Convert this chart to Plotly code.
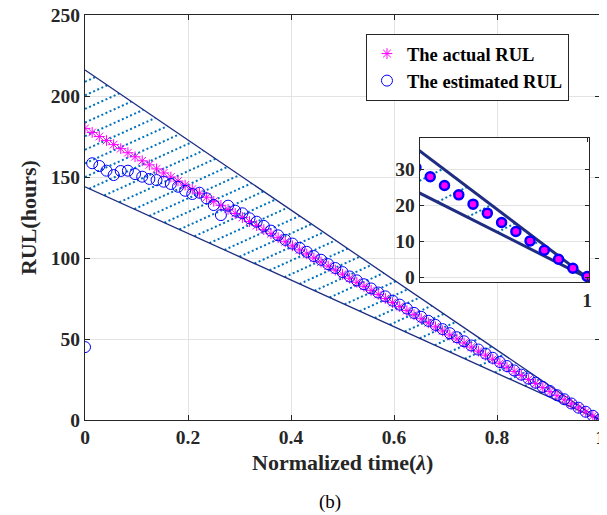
import numpy as np
import plotly.graph_objects as go

# ---------------- data ----------------
norm_time = [round(i / 72, 4) for i in range(73)]  # sampling grid, 73 points on [0,1]

actual_rul = [180.0, 177.5, 175.0, 172.5, 170.0, 167.5, 165.0, 162.5, 160.0, 157.5,
              155.0, 152.5, 150.0, 147.5, 145.0, 142.5, 140.0, 137.5, 135.0, 132.5,
              130.0, 127.5, 125.0, 122.5, 120.0, 117.5, 115.0, 112.5, 110.0, 107.5,
              105.0, 102.5, 100.0, 97.5, 95.0, 92.5, 90.0, 87.5, 85.0, 82.5,
              80.0, 77.5, 75.0, 72.5, 70.0, 67.5, 65.0, 62.5, 60.0, 57.5,
              55.0, 52.5, 50.0, 47.5, 45.0, 42.5, 40.0, 37.5, 35.0, 32.5,
              30.0, 27.5, 25.0, 22.5, 20.0, 17.5, 15.0, 12.5, 10.0, 7.5,
              5.0, 2.5, 0.0]

estimated_rul = [45.0, 158.5, 156.8, 153.9, 151.2, 153.7, 153.9, 151.8, 150.2, 148.8,
                 148.1, 147.1, 145.7, 144.0, 141.5, 139.5, 140.3, 136.8, 132.7, 126.5,
                 132.3, 129.2, 127.6, 124.5, 122.4, 119.8, 116.9, 114.0, 111.2, 108.9,
                 106.3, 103.8, 101.2, 98.9, 96.2, 93.8, 91.3, 88.6, 86.2, 83.8,
                 81.2, 78.7, 76.3, 73.7, 71.2, 68.8, 66.1, 63.7, 61.2, 58.7,
                 56.1, 53.6, 51.1, 48.6, 46.0, 43.5, 41.0, 38.4, 35.8, 33.3,
                 30.6, 28.0, 25.6, 23.0, 20.4, 17.9, 15.3, 12.8, 10.2, 7.6,
                 5.1, 2.6, 0.3]

bound_time = [0.0, 1.0]
upper_bound = [216.0, 0.0]
lower_bound = [144.0, 0.0]

# ---------------- hatch between bounds ----------------
hatch_slope = 144.0
hatch_offsets = np.arange(208.8, -144.0, -8.4)
U0, L0 = upper_bound[0], lower_bound[0]
hx, hy = [], []
for c in hatch_offsets:
    if c >= L0:
        x0 = 0.0
    else:
        x0 = (L0 - c) / (L0 + hatch_slope)
    x1 = (U0 - c) / (U0 + hatch_slope)
    if x1 <= x0:
        continue
    hx += [x0, x1, None]
    hy += [hatch_slope * x0 + c, hatch_slope * x1 + c, None]

FONT = "Liberation Serif"
NAVY = "#1E2D82"
HATCH = "#0072BD"
AX = "#262626"
GRID = "#e3e3e3"

fig = go.Figure()

# main axes
fig.add_trace(go.Scatter(x=hx, y=hy, mode="lines", showlegend=False, hoverinfo="skip",
                         line=dict(color=HATCH, width=2, dash="2px,2.5px")))
fig.add_trace(go.Scatter(x=bound_time, y=upper_bound, mode="lines", showlegend=False,
                         line=dict(color=NAVY, width=1.3)))
fig.add_trace(go.Scatter(x=bound_time, y=lower_bound, mode="lines", showlegend=False,
                         line=dict(color=NAVY, width=1.3)))
fig.add_trace(go.Scatter(x=norm_time, y=actual_rul, mode="markers", name="The actual RUL",
                         marker=dict(symbol="asterisk-open", size=9, color="#FF00FF",
                                     line=dict(color="#FF00FF", width=1))))
fig.add_trace(go.Scatter(x=norm_time, y=estimated_rul, mode="markers", name="The estimated RUL",
                         marker=dict(symbol="circle-open", size=11, color="#0000FF",
                                     line=dict(color="#0000FF", width=1))))

# inset axes
fig.add_trace(go.Scatter(x=hx, y=hy, mode="lines", showlegend=False, hoverinfo="skip",
                         xaxis="x2", yaxis="y2",
                         line=dict(color=HATCH, width=2, dash="2px,2.5px")))
fig.add_trace(go.Scatter(x=bound_time, y=upper_bound, mode="lines", showlegend=False,
                         xaxis="x2", yaxis="y2", line=dict(color=NAVY, width=3)))
fig.add_trace(go.Scatter(x=bound_time, y=lower_bound, mode="lines", showlegend=False,
                         xaxis="x2", yaxis="y2", line=dict(color=NAVY, width=3)))
fig.add_trace(go.Scatter(x=norm_time, y=estimated_rul, mode="markers", showlegend=False,
                         xaxis="x2", yaxis="y2",
                         marker=dict(symbol="circle", size=9, color="#FF00FF",
                                     line=dict(color="#0000FF", width=2.5))))

tickfont = dict(family=FONT, size=19.5, color="#262626", weight="bold")
titlefont = dict(family=FONT, size=22, color="#262626", weight="bold")

common = dict(showline=True, mirror="ticks", linecolor=AX, linewidth=1,
              ticks="inside", tickcolor=AX, zeroline=False, tickfont=tickfont,
              automargin=False, ticklabeloverflow="allow")

fig.update_layout(
    width=607, height=515,
    margin=dict(l=77, r=15, t=7, b=103),
    paper_bgcolor="white", plot_bgcolor="white",
    font=dict(family=FONT, color="#262626"),
    xaxis=dict(domain=[0, 1], range=[0, 1], tickvals=[0, 0.2, 0.4, 0.6, 0.8, 1],
               ticktext=["0", "0.2", "0.4", "0.6", "0.8", "1"], ticklen=5,
               showgrid=True, gridcolor=GRID, **common),
    yaxis=dict(domain=[0, 1], range=[0, 250], tickvals=[0, 50, 100, 150, 200, 250],
               ticklen=5, showgrid=True, gridcolor=GRID, **common),
    xaxis2=dict(domain=[0.650, 0.979], anchor="y2", range=[0.837, 1.002],
                tickvals=[1], ticktext=["1"], ticklen=4, showgrid=False, **common),
    yaxis2=dict(domain=[0.340, 0.6956], anchor="x2", range=[-1.3, 38.7],
                tickvals=[0, 10, 20, 30], ticklen=4, showgrid=True, gridcolor=GRID,
                **common),
    legend=dict(x=0.5456, y=0.953, xanchor="left", yanchor="top",
                bgcolor="white", bordercolor=AX, borderwidth=1,
                font=dict(family=FONT, size=18.5, color="black", weight="bold")),
    annotations=[
        dict(text="Normalized time(<i>λ</i>)", x=0.5, y=-0.106, xref="paper", yref="paper",
             showarrow=False, xanchor="center", yanchor="middle", font=titlefont),
        dict(text="RUL(hours)", x=-0.1107, y=0.501, xref="paper", yref="paper",
             showarrow=False, xanchor="center", yanchor="middle", textangle=-90,
             font=titlefont),
        dict(text="(b)", x=0.476, y=-0.2025, xref="paper", yref="paper",
             showarrow=False, xanchor="center", yanchor="middle",
             font=dict(family=FONT, size=19, color="black")),
    ],
)

fig.write_html("out.html")
